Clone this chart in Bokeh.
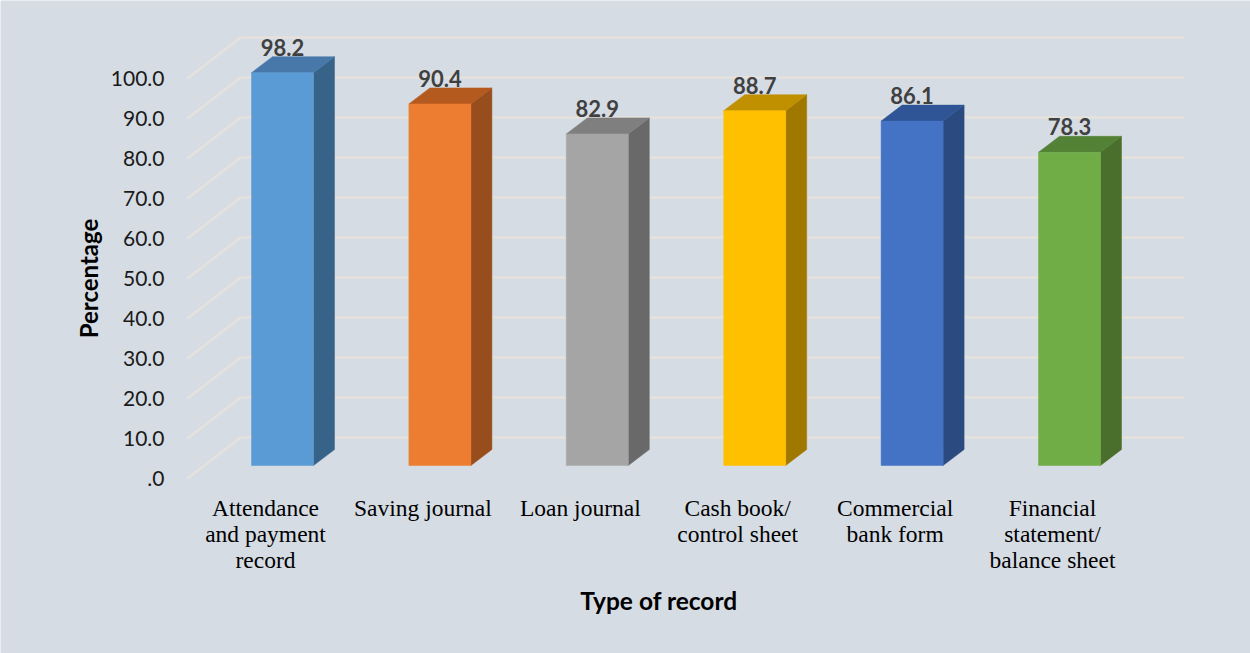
import math
from bokeh.plotting import figure
from bokeh.models import Range1d, ColumnDataSource
from bokeh.embed import file_html
from bokeh.resources import INLINE
from bokeh.core.properties import value

# ---------------- data ----------------
categories = ["Attendance\nand payment\nrecord", "Saving journal", "Loan journal",
              "Cash book/\ncontrol sheet", "Commercial\nbank form",
              "Financial\nstatement/\nbalance sheet"]
percentages = [98.2, 90.4, 82.9, 88.7, 86.1, 78.3]
value_labels = ["98.2", "90.4", "82.9", "88.7", "86.1", "78.3"]
y_ticks = [0, 10, 20, 30, 40, 50, 60, 70, 80, 90, 100]
y_tick_labels = [".0", "10.0", "20.0", "30.0", "40.0", "50.0", "60.0", "70.0", "80.0", "90.0", "100.0"]
x_title = "Type of record"
y_title = "Percentage"

front_colors = ["#5B9BD5", "#ED7D31", "#A5A5A5", "#FFC000", "#4472C4", "#70AD47"]
top_colors = ["#4778A9", "#B55A1E", "#7F7F7F", "#C09000", "#2F5597", "#538135"]
side_colors = ["#386388", "#984D1C", "#696969", "#A07800", "#2A4A80", "#4A6E2B"]

# ---------------- layout constants (pixels -> data units) ----------------
PX_X = 157.4      # pixels per category
PX_Y = 4.0        # pixels per percent
W, H = 1250, 653
LABEL_X0 = 265    # pixel of category 0 at the front plane
ZERO_Y = 478      # pixel (from top) of value 0 at the front plane

wall_dx = 53 / PX_X
wall_dy = 41 / PX_Y
wall_front_x = (187 - LABEL_X0) / PX_X
wall_right_x = (1184 - LABEL_X0) / PX_X
bar_off_x = 17 / PX_X
bar_off_y = 13 / PX_Y
bar_dx = 21 / PX_X
bar_dy = 16 / PX_Y
bar_half = 31 / PX_X
tick_label_x = (164 - LABEL_X0) / PX_X
y_title_x = (88 - LABEL_X0) / PX_X

BG = "#D6DCE4"
GRID = "#E5E1DC"

p = figure(width=W, height=H, output_backend="svg", toolbar_location=None,
           x_range=Range1d((0 - LABEL_X0) / PX_X, (W - LABEL_X0) / PX_X),
           y_range=Range1d((ZERO_Y - H) / PX_Y, ZERO_Y / PX_Y),
           min_border_left=0, min_border_right=0,
           min_border_top=0, min_border_bottom=0)
p.background_fill_color = BG
p.border_fill_color = BG
p.outline_line_color = None
p.axis.visible = False
p.grid.visible = False

# gridlines: back wall + left wall diagonals
xs, ys = [], []
for t in y_ticks:
    xs.append([wall_front_x, wall_front_x + wall_dx, wall_right_x])
    ys.append([t, t + wall_dy, t + wall_dy])
p.multi_line(xs=xs, ys=ys, line_color=GRID, line_width=2.5)

# y tick labels
p.text(x=[tick_label_x] * len(y_ticks), y=y_ticks, text=y_tick_labels,
       text_font=value("Lato"), text_font_size="21px", text_color="#1A1A1A",
       text_align="right", text_baseline="middle")

# y title, centred on the middle of the value scale
y_mid = (y_ticks[0] + y_ticks[-1]) / 2
p.text(x=[y_title_x], y=[y_mid], text=[y_title], angle=math.pi / 2,
       text_font=value("Lato"), text_font_size="24px", text_font_style="bold",
       text_color="#000000", text_align="center", text_baseline="middle")

# bars
idx = list(range(len(percentages)))
fl = [i + bar_off_x - bar_half for i in idx]
fr = [i + bar_off_x + bar_half for i in idx]
fb = [bar_off_y for _ in idx]
ft = [v + bar_off_y for v in percentages]

side_xs = [[r, r + bar_dx, r + bar_dx, r] for r in fr]
side_ys = [[b, b + bar_dy, t + bar_dy, t] for b, t in zip(fb, ft)]
top_xs = [[l, r, r + bar_dx, l + bar_dx] for l, r in zip(fl, fr)]
top_ys = [[t, t, t + bar_dy, t + bar_dy] for t in ft]

p.patches(xs=side_xs, ys=side_ys, fill_color=side_colors, line_color=side_colors, line_width=0.5)
p.patches(xs=top_xs, ys=top_ys, fill_color=top_colors, line_color=top_colors, line_width=0.5)
p.quad(left=fl, right=fr, bottom=fb, top=ft, fill_color=front_colors, line_color=front_colors, line_width=0.5)

# value labels
src_v = ColumnDataSource(dict(x=[i + bar_off_x for i in idx],
                              y=[t + bar_dy + 0.3 for t in ft],
                              text=value_labels))
p.text(x="x", y="y", text="text", source=src_v, text_font=value("Lato"),
       text_font_size="22px", text_font_style="bold", text_color="#404040",
       text_align="center", text_baseline="bottom")

# category labels
src_c = ColumnDataSource(dict(x=idx, y=[-4.0 for _ in idx], text=categories))
p.text(x="x", y="y", text="text", source=src_c, text_font=value("Liberation Serif"),
       text_font_size="23.5px", text_color="#000000", text_align="center",
       text_baseline="top", text_line_height=1.0)

# x title
p.text(x=[sum(idx) / len(idx)], y=[(ZERO_Y - 600) / PX_Y], text=[x_title],
       text_font=value("Lato"), text_font_size="24.5px", text_font_style="bold",
       text_color="#000000", text_align="center", text_baseline="middle")

open("out.html", "w").write(file_html(p, INLINE))
